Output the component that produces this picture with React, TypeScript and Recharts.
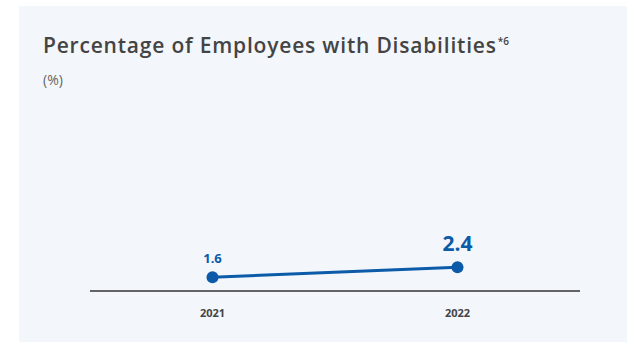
import { LineChart, Line, XAxis, YAxis, LabelList } from "recharts"

const years = ["2021", "2022"]
const rates = [1.6, 2.4]

const data = years.map((year, i) => ({ year, rate: rates[i] }))

const BLUE = "#0b5ba8"
const FONT = "'Open Sans', sans-serif"

// last value is emphasised with a bigger label
const ValueLabel = (props: any) => {
  const { x, y, value, index } = props
  const last = index === rates.length - 1
  return (
    <text
      x={x}
      y={last ? y - 16 : y - 14}
      textAnchor="middle"
      fill={BLUE}
      fontFamily={FONT}
      fontWeight={700}
      fontSize={last ? 21 : 13}
    >
      {value}
    </text>
  )
}

export default function App() {
  return (
    <div style={{ position: "absolute", left: 0, top: 0, width: 627, height: 342, background: "#fff" }}>
      <div
        style={{
          position: "absolute",
          left: 19,
          top: 6,
          width: 608,
          height: 336,
          background: "#f3f6fb",
          fontFamily: FONT,
        }}
      >
        <div
          style={{
            position: "absolute",
            left: 24,
            top: 25,
            fontSize: 21,
            fontWeight: 600,
            letterSpacing: 0.8,
            color: "#444",
            whiteSpace: "nowrap",
          }}
        >
          Percentage of Employees with Disabilities
          <sup style={{ fontSize: 10, marginLeft: 1, letterSpacing: 0 }}>*6</sup>
        </div>
        <div style={{ position: "absolute", left: 24, top: 64, fontSize: 14, color: "#666" }}>(%)</div>
      </div>
      <div style={{ position: "absolute", left: 0, top: 0 }}>
        <LineChart
          width={627}
          height={342}
          data={data}
          margin={{ top: 97, right: 47, bottom: 21, left: 90 }}
        >
          <XAxis
            dataKey="year"
            scale="band"
            axisLine={{ stroke: "#333", strokeWidth: 1.5 }}
            tickLine={false}
            tickMargin={12}
            height={30}
            tick={{ fill: "#444", fontSize: 11, fontWeight: 700, fontFamily: FONT }}
          />
          <YAxis hide domain={[0.5, 16]} />
          <Line
            dataKey="rate"
            stroke={BLUE}
            strokeWidth={3}
            dot={{ r: 6, fill: BLUE, stroke: BLUE, strokeWidth: 0 }}
            isAnimationActive={false}
          >
            <LabelList dataKey="rate" content={ValueLabel} />
          </Line>
        </LineChart>
      </div>
    </div>
  )
}
